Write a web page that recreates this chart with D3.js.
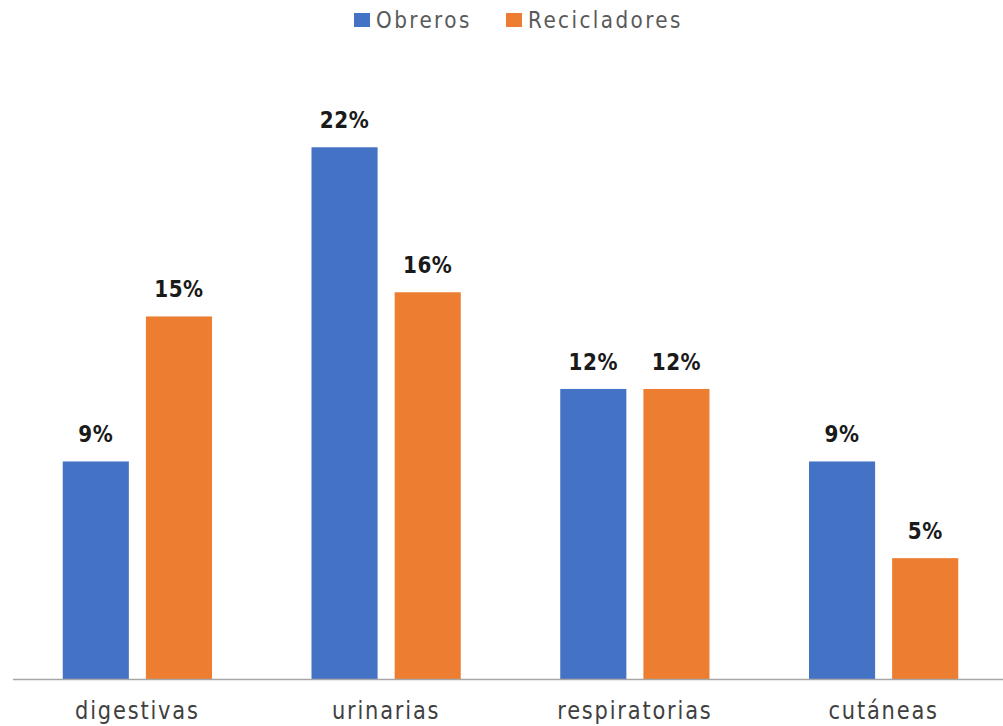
<!DOCTYPE html>
<html>
<head>
<meta charset="utf-8">
<script src="https://cdn.jsdelivr.net/npm/d3@7"></script>
<style>
  html, body { margin: 0; padding: 0; background: #fff; }
  svg { display: block; }
</style>
</head>
<body>
<svg id="chart" width="1003" height="726"></svg>
<script>
// Enfermedades por grupo de trabajadores (%)
const categories = ["digestivas", "urinarias", "respiratorias", "cutáneas"];
const seriesNames = ["Obreros", "Recicladores"];
const obreros = [9, 22, 12, 9];
const recicladores = [15, 16, 12, 5];
const colors = ["#4472C4", "#ED7D31"];

const values = [obreros, recicladores];
const rows = categories.map((c, i) => ({
  category: c,
  items: seriesNames.map((s, j) => ({ series: s, value: values[j][i] }))
}));

const svg = d3.select("#chart");
const font = "'DejaVu Sans', Verdana, sans-serif";
const baseline = 679;
const stretch = 1.15; // glyphs are drawn slightly taller than wide

const x0 = d3.scaleBand().domain(categories).range([13, 1008]).paddingInner(0.4).paddingOuter(0.2);
const x1 = d3.scaleBand().domain(seriesNames).range([0, x0.bandwidth()]).paddingInner(0.205);
const y = d3.scaleLinear().domain([0, 25]).range([baseline, baseline - 25 * 24.17]);
const color = d3.scaleOrdinal().domain(seriesNames).range(colors);

// bars
const groups = svg.append("g").selectAll("g")
  .data(rows).join("g")
  .attr("transform", d => `translate(${x0(d.category)},0)`);

groups.selectAll("rect")
  .data(d => d.items).join("rect")
  .attr("x", d => x1(d.series))
  .attr("width", x1.bandwidth())
  .attr("y", d => y(d.value))
  .attr("height", d => y(0) - y(d.value))
  .attr("fill", d => color(d.series));

// value labels
groups.selectAll("text")
  .data(d => d.items).join("text")
  .attr("transform", d => `translate(${x1(d.series) + x1.bandwidth() / 2},${y(d.value) - 19}) scale(1,${stretch})`)
  .attr("text-anchor", "middle")
  .attr("font-family", font)
  .attr("font-weight", "bold")
  .attr("font-size", 20)
  .attr("letter-spacing", "0.5px")
  .attr("fill", "#1a1a1a")
  .text(d => d.value + "%");

// category axis
const xAxis = svg.append("g")
  .attr("transform", `translate(0,${baseline})`)
  .call(d3.axisBottom(x0).tickSize(0).tickPadding(0));
xAxis.select(".domain").attr("stroke", "#a6a6a6").attr("stroke-width", 1.5).attr("d", "M13,0.5H1008");
xAxis.selectAll(".tick text")
  .attr("y", 0)
  .attr("dy", 0)
  .attr("transform", `translate(0,40) scale(1,${stretch})`)
  .attr("font-family", font)
  .attr("font-size", 21)
  .attr("letter-spacing", "1.8px")
  .attr("fill", "#404040");

// legend
const legendItems = [
  { name: seriesNames[0], x: 354 },
  { name: seriesNames[1], x: 506 }
];
const legend = svg.append("g").selectAll("g")
  .data(legendItems).join("g")
  .attr("transform", d => `translate(${d.x},0)`);
legend.append("rect")
  .attr("x", 0).attr("y", 13).attr("width", 16).attr("height", 14)
  .attr("fill", d => color(d.name));
legend.append("text")
  .attr("transform", `translate(22,27.5) scale(1,${stretch})`)
  .attr("font-family", font)
  .attr("font-size", 20)
  .attr("letter-spacing", "2.4px")
  .attr("fill", "#595959")
  .text(d => d.name);
</script>
</body>
</html>
